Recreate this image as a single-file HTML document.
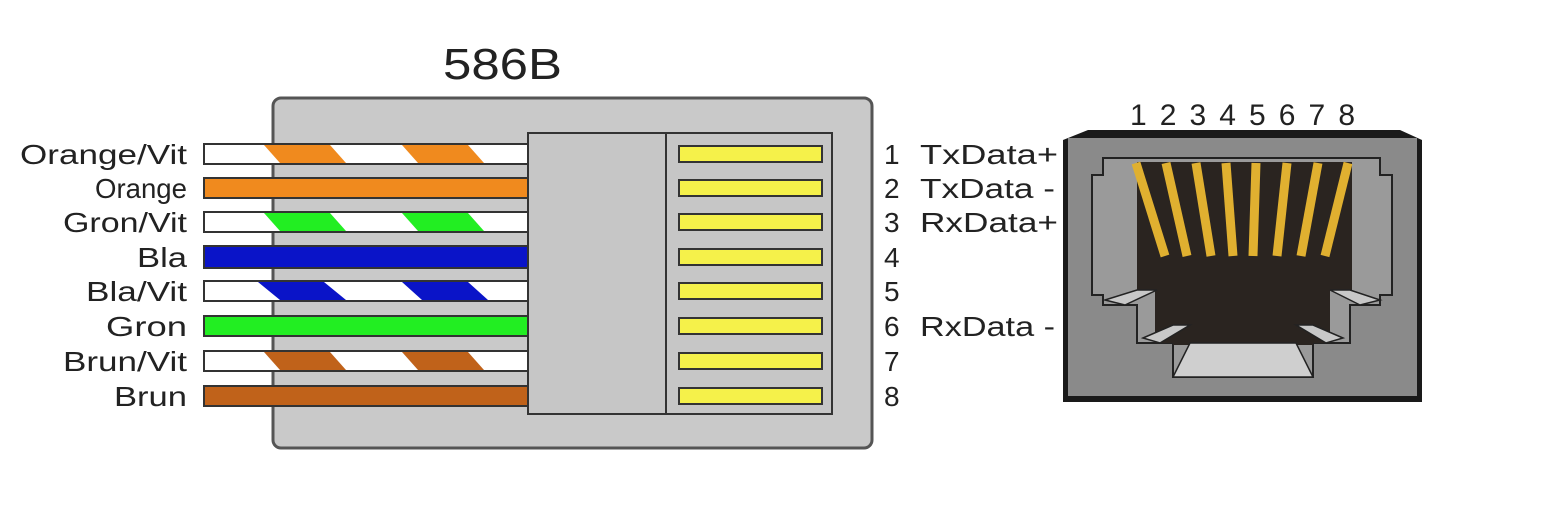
<!DOCTYPE html>
<html><head><meta charset="utf-8"><style>
html,body{margin:0;padding:0;background:#fff;}
svg{display:block;}
text{font-family:"Liberation Sans",sans-serif;}
</style></head><body>
<svg width="1554" height="515" viewBox="0 0 1554 515" xmlns="http://www.w3.org/2000/svg">
<rect width="1554" height="515" fill="#fff"/>
<text x="443" y="79" font-size="44" fill="#222" textLength="119" lengthAdjust="spacingAndGlyphs">586B</text>
<rect x="273" y="98" width="599" height="350" rx="8" fill="#c9c9c9" stroke="#555" stroke-width="3"/>
<rect x="528" y="133" width="304" height="281" fill="#c6c6c6" stroke="#333" stroke-width="2"/>
<line x1="666" y1="133" x2="666" y2="414" stroke="#333" stroke-width="2"/>
<g fill="#f5f14a" stroke="#333" stroke-width="2">
<rect x="679" y="146" width="143" height="16"/>
<rect x="679" y="180" width="143" height="16"/>
<rect x="679" y="214" width="143" height="16"/>
<rect x="679" y="249" width="143" height="16"/>
<rect x="679" y="283" width="143" height="16"/>
<rect x="679" y="318" width="143" height="16"/>
<rect x="679" y="353" width="143" height="16"/>
<rect x="679" y="388" width="143" height="16"/>
</g>
<g stroke="#333" stroke-width="2">
<rect x="204" y="144" width="324" height="20" fill="#fff"/>
<rect x="204" y="178" width="324" height="20" fill="#f08a1e"/>
<rect x="204" y="212" width="324" height="20" fill="#fff"/>
<rect x="204" y="246" width="324" height="22" fill="#0a14c8"/>
<rect x="204" y="281" width="324" height="20" fill="#fff"/>
<rect x="204" y="316" width="324" height="20" fill="#22ee22"/>
<rect x="204" y="351" width="324" height="20" fill="#fff"/>
<rect x="204" y="386" width="324" height="20" fill="#c0621a"/>
</g>
<g>
<polygon points="264,145 330,145 346,163 280,163" fill="#f08a1e"/>
<polygon points="402,145 468,145 484,163 418,163" fill="#f08a1e"/>
<polygon points="264,213 330,213 346,231 280,231" fill="#22ee22"/>
<polygon points="402,213 468,213 484,231 418,231" fill="#22ee22"/>
<polygon points="258,282 324,282 346,300 280,300" fill="#0a14c8"/>
<polygon points="402,282 468,282 488,300 422,300" fill="#0a14c8"/>
<polygon points="264,352 330,352 346,370 280,370" fill="#c0621a"/>
<polygon points="402,352 468,352 484,370 418,370" fill="#c0621a"/>
</g>
<g font-size="28" fill="#222" text-anchor="end">
<text x="187" y="164" textLength="167" lengthAdjust="spacingAndGlyphs">Orange/Vit</text>
<text x="187" y="198" textLength="92" lengthAdjust="spacingAndGlyphs">Orange</text>
<text x="187" y="232" textLength="124" lengthAdjust="spacingAndGlyphs">Gron/Vit</text>
<text x="187" y="267" textLength="50" lengthAdjust="spacingAndGlyphs">Bla</text>
<text x="187" y="301" textLength="101" lengthAdjust="spacingAndGlyphs">Bla/Vit</text>
<text x="187" y="336" textLength="81" lengthAdjust="spacingAndGlyphs">Gron</text>
<text x="187" y="371" textLength="124" lengthAdjust="spacingAndGlyphs">Brun/Vit</text>
<text x="187" y="406" textLength="73" lengthAdjust="spacingAndGlyphs">Brun</text>
</g>
<g font-size="28" fill="#222">
<text x="884" y="164">1</text><text x="884" y="198">2</text><text x="884" y="232">3</text><text x="884" y="267">4</text>
<text x="884" y="301">5</text><text x="884" y="336">6</text><text x="884" y="371">7</text><text x="884" y="406">8</text>
<text x="920" y="164" textLength="138" lengthAdjust="spacingAndGlyphs">TxData+</text>
<text x="920" y="198" textLength="135" lengthAdjust="spacingAndGlyphs">TxData -</text>
<text x="920" y="232" textLength="138" lengthAdjust="spacingAndGlyphs">RxData+</text>
<text x="920" y="336" textLength="135" lengthAdjust="spacingAndGlyphs">RxData -</text>
</g>
<text x="1130" y="125" font-size="30" fill="#222" textLength="225" lengthAdjust="spacing">1 2 3 4 5 6 7 8</text>
<polygon points="1088,130 1400,130 1422,140 1422,402 1063,402 1063,140" fill="#1a1a1a"/>
<rect x="1068" y="138" width="349" height="258" fill="#8a8a8a"/>
<polygon points="1103,158 1380,158 1380,175 1392,175 1392,295 1380,295 1380,305 1350,305 1350,343 1313,343 1313,377 1173,377 1173,343 1137,343 1137,305 1103,305 1103,295 1092,295 1092,175 1103,175" fill="#9a9a9a" stroke="#222" stroke-width="2"/>
<polygon points="1137,162 1352,162 1352,290 1330,290 1330,343 1313,343 1313,345 1173,345 1173,343 1155,343 1155,290 1137,290" fill="#2a2420"/>
<polygon points="1105,300 1137,290 1157,290 1125,305" fill="#c8c8c8" stroke="#222" stroke-width="1.5"/>
<polygon points="1380,300 1350,290 1330,290 1360,305" fill="#c8c8c8" stroke="#222" stroke-width="1.5"/>
<polygon points="1143,338 1173,325 1190,325 1160,343" fill="#c8c8c8" stroke="#222" stroke-width="1.5"/>
<polygon points="1343,338 1313,325 1296,325 1326,343" fill="#c8c8c8" stroke="#222" stroke-width="1.5"/>
<polygon points="1190,343 1296,343 1313,377 1173,377" fill="#cfcfcf" stroke="#222" stroke-width="1.5"/>
<g stroke="#e0b030" stroke-width="9" stroke-linecap="butt">
<line x1="1136" y1="163" x2="1165" y2="256"/>
<line x1="1166" y1="163" x2="1187" y2="256"/>
<line x1="1196" y1="163" x2="1211" y2="256"/>
<line x1="1226" y1="163" x2="1233" y2="256"/>
<line x1="1256" y1="163" x2="1253" y2="256"/>
<line x1="1287" y1="163" x2="1277" y2="256"/>
<line x1="1318" y1="163" x2="1301" y2="256"/>
<line x1="1348" y1="163" x2="1325" y2="256"/>
</g>
</svg>
</body></html>
